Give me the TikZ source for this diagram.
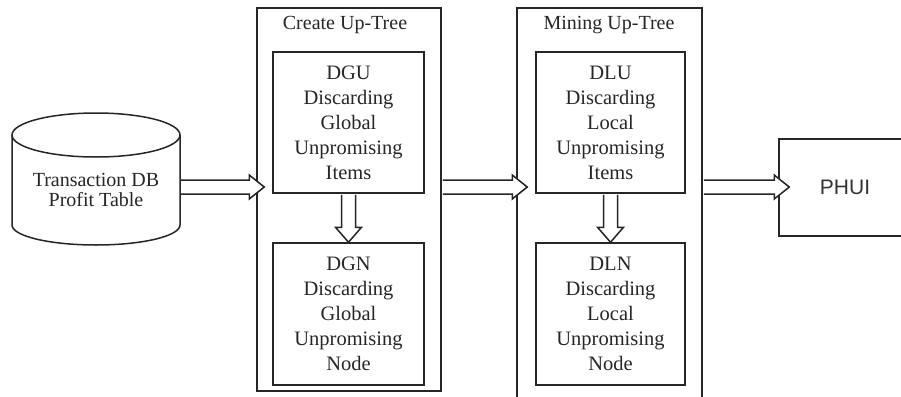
\documentclass[tikz,border=0pt]{standalone}
\usepackage{fontspec}
\setmainfont{Liberation Serif}
\newfontfamily\phuifont{Liberation Sans}
\usetikzlibrary{calc}
\newcommand{\HArrow}[2]{%
  \draw[arrowline] ($(#1)+(1,-7)$) -- ($(#2)+(-15,-7)$) -- ($(#2)+(-15,-12)$) -- (#2)
    -- ($(#2)+(-15,12)$) -- ($(#2)+(-15,7)$) -- ($(#1)+(1,7)$);}
\newcommand{\VArrow}[2]{%
  \draw[arrowline] ($(#1)+(-7,1)$) -- ($(#2)+(-7,-15)$) -- ($(#2)+(-13,-15)$) -- (#2)
    -- ($(#2)+(13,-15)$) -- ($(#2)+(7,-15)$) -- ($(#1)+(7,1)$);}
\begin{document}
\begin{tikzpicture}[x=1pt,y=-1pt,
  lc/.style={draw=black!85, line width=1.5pt},
  outerbox/.style={lc, inner sep=0pt},
  innerbox/.style={lc, minimum width=151pt, minimum height=141pt, align=center,
    inner sep=0pt, font=\fontsize{20.5}{25}\selectfont, text=black!85},
  title/.style={font=\fontsize{20}{24}\selectfont, text=black!85},
  arrowline/.style={lc, fill=white, line join=miter}]
\useasboundingbox (0,0) rectangle (901,396);
\fill[white] (0,0) rectangle (901,396);

% outer boxes
\node[outerbox, minimum width=184pt, minimum height=383pt] (create) at (349,199.5) {};
\node[outerbox, minimum width=185pt, minimum height=391pt] (mining) at (609.5,203.5) {};
\node[title] (ctitle) at (345,25) {Create Up-Tree};
\node[title] (mtitle) at (609,25) {Mining Up-Tree};

% inner boxes
\node[innerbox] (dgu) at (348.5,122.5) {DGU\\Discarding\\Global\\Unpromising\\Items};
\node[innerbox, minimum height=142pt] (dgn) at (348.5,314) {DGN\\Discarding\\Global\\Unpromising\\Node};
\node[innerbox, minimum width=149pt] (dlu) at (610.5,122.5) {DLU\\Discarding\\Local\\Unpromising\\Items};
\node[innerbox, minimum width=149pt, minimum height=142pt] (dln) at (610.5,314) {DLN\\Discarding\\Local\\Unpromising\\Node};

% PHUI
\node[lc, minimum width=132pt, minimum height=97pt, inner sep=0pt,
  font=\phuifont\fontsize{21}{25}\selectfont, text=black!80] (phui) at (845,187.5) {PHUI};

% database cylinder
\node[minimum width=168pt, minimum height=132pt, inner sep=0pt] (db) at (96,179) {};
\draw[lc, fill=white] (12,135) -- (12,225) arc[start angle=180, end angle=360, x radius=84pt, y radius=20pt] -- (180,135);
\draw[lc] (96,135) ellipse [x radius=84pt, y radius=22pt];
\node[align=center, font=\fontsize{20}{20}\selectfont, text=black!85] (dbtxt) at (96,190) {Transaction DB\\Profit Table};

% connectors
\coordinate (a1s) at ($(db.east)+(0,8)$);
\coordinate (a1e) at ($(create.west |- a1s)+(8,0)$);
\coordinate (a2s) at (create.east |- a1s);
\coordinate (a2e) at ($(mining.west |- a1s)+(11,0)$);
\coordinate (a3s) at (mining.east |- a1s);
\coordinate (a3e) at ($(phui.west |- a1s)+(11,0)$);
\HArrow{a1s}{a1e}
\HArrow{a2s}{a2e}
\HArrow{a3s}{a3e}
\VArrow{dgu.south}{dgn.north}
\VArrow{dlu.south}{dln.north}
\end{tikzpicture}
\end{document}
